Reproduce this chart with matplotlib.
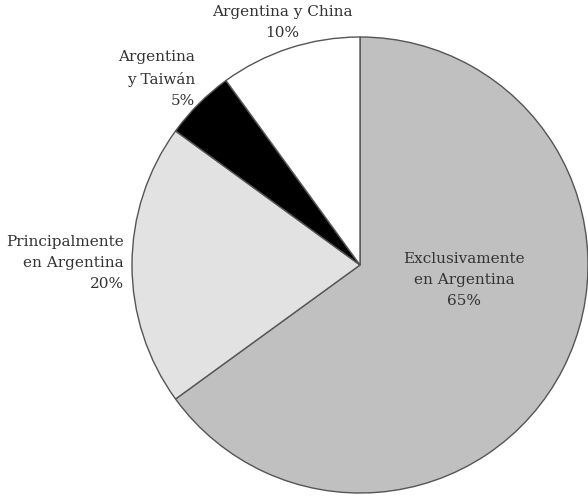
import matplotlib
matplotlib.use("Agg")
from matplotlib import pyplot as plt

# Données du graphique
labels = ["Exclusivamente\nen Argentina", "Principalmente\nen Argentina", "Argentina\ny Taiwán", "Argentina y China"]
valeurs = [65, 20, 5, 10]
couleurs = ["#c0c0c0", "#e2e2e2", "#000000", "#ffffff"]

plt.rcParams['font.family'] = ['DejaVu Serif']

fig = plt.figure(figsize=(5.88, 4.96), dpi=100)
# centre du camembert ~ (360, 265) px, rayon ~ 228 px
ax = fig.add_axes([(360 - 228) / 588, (496 - 265 - 228) / 496, 456 / 588, 456 / 496])
ax.pie(valeurs, colors=couleurs, startangle=90, counterclock=False,
       wedgeprops=dict(edgecolor="#555555", linewidth=1.0))
ax.set_xlim(-1, 1)
ax.set_ylim(-1, 1)
ax.set_aspect("equal")
ax.axis("off")

txt = dict(fontsize=11, color="#333333", linespacing=1.65)
ax.text(0.456, -0.065, f"{labels[0]}\n{valeurs[0]}%", ha="center", va="center", **txt)
ax.text(-1.035, 0.01, f"{labels[1]}\n{valeurs[1]}%", ha="right", va="center", multialignment="right", **txt)
ax.text(-0.724, 0.815, f"{labels[2]}\n{valeurs[2]}%", ha="right", va="center", multialignment="right", **txt)
ax.text(-0.34, 1.065, f"{labels[3]}\n{valeurs[3]}%", ha="center", va="center", clip_on=False, **txt)

fig.savefig("out.png", dpi=100)
